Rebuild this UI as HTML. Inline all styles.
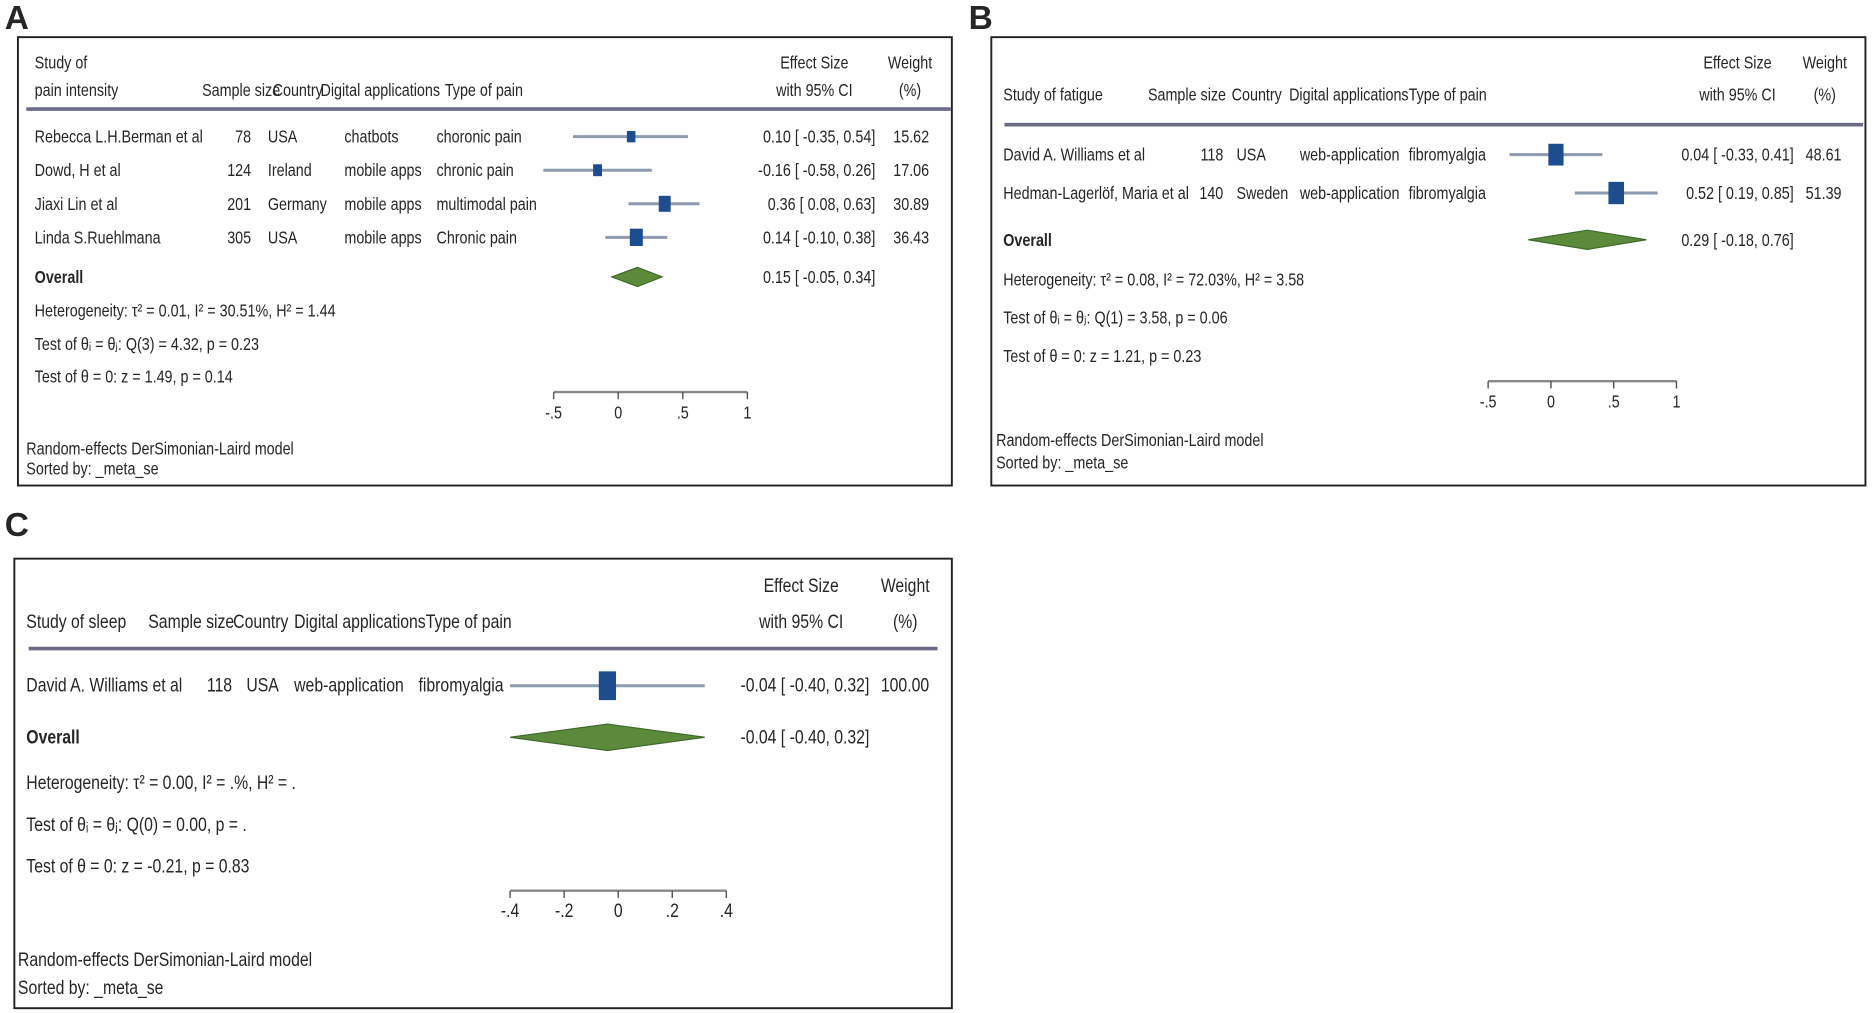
<!DOCTYPE html>
<html><head><meta charset="utf-8">
<style>
html,body{margin:0;padding:0;background:#fff;}
svg{display:block;}
text{font-family:"Liberation Sans",sans-serif;fill:#262626;}
</style></head>
<body>
<svg id="fig" width="1875" height="1013" viewBox="0 0 1568 845" preserveAspectRatio="none" xmlns="http://www.w3.org/2000/svg"></svg>
<script>
// ---------- Panel A data ----------
const aStudies = ["Rebecca L.H.Berman et al","Dowd, H et al","Jiaxi Lin et al","Linda S.Ruehlmana"];
const aSample = ["78","124","201","305"];
const aCountry = ["USA","Ireland","Germany","USA"];
const aApp = ["chatbots","mobile apps","mobile apps","mobile apps"];
const aPain = ["choronic pain","chronic pain","multimodal pain","Chronic pain"];
const aEst = [0.10,-0.16,0.36,0.14];
const aLo = [-0.35,-0.58,0.08,-0.10];
const aHi = [0.54,0.26,0.63,0.38];
const aWeight = [15.62,17.06,30.89,36.43];
const aOverall = [0.15,-0.05,0.34];
const aTicks = [-0.5,0,0.5,1];
const aTickLabels = ["-.5","0",".5","1"];
// ---------- Panel B data ----------
const bStudies = ["David A. Williams et al","Hedman-Lagerlöf, Maria et al"];
const bSample = ["118","140"];
const bCountry = ["USA","Sweden"];
const bApp = ["web-application","web-application"];
const bPain = ["fibromyalgia","fibromyalgia"];
const bEst = [0.04,0.52];
const bLo = [-0.33,0.19];
const bHi = [0.41,0.85];
const bWeight = [48.61,51.39];
const bOverall = [0.29,-0.18,0.76];
const bTicks = [-0.5,0,0.5,1];
const bTickLabels = ["-.5","0",".5","1"];
// ---------- Panel C data ----------
const cStudies = ["David A. Williams et al"];
const cSample = ["118"];
const cCountry = ["USA"];
const cApp = ["web-application"];
const cPain = ["fibromyalgia"];
const cEst = [-0.04];
const cLo = [-0.40];
const cHi = [0.32];
const cWeight = [100.00];
const cOverall = [-0.04,-0.40,0.32];
const cTicks = [-0.4,-0.2,0,0.2,0.4];
const cTickLabels = ["-.4","-.2","0",".2",".4"];

const NS="http://www.w3.org/2000/svg";
const svg=document.getElementById('fig');
const SX=0.8;
function el(tag,attrs,parent){const e=document.createElementNS(NS,tag);for(const k in attrs)e.setAttribute(k,attrs[k]);(parent||svg).appendChild(e);return e;}
function txt(parent,x,y,s,size,anchor,weight){
  const g=el('g',{transform:'translate('+x+','+y+') scale('+SX+',1)'},parent);
  const t=el('text',{x:0,y:0,'font-size':size||15,'text-anchor':anchor||'start','font-weight':weight||'normal'},g);
  t.textContent=s;return t;
}
function f2(v){return (v<0?'-':'')+Math.abs(v).toFixed(2);}
function ciText(e,l,h){return f2(e)+' [ '+f2(l)+', '+f2(h)+']';}

function panel(cfg){
  const fs=cfg.fs||15;
  const g=el('g',{});
  
  
  const lab=el('text',{x:cfg.labX,y:cfg.labY,'font-size':28,'font-weight':'bold',fill:'#000'},g);
  lab.textContent=cfg.label;
  
  
  const box=el('rect',{x:cfg.box[0],y:cfg.box[1],width:cfg.box[2]-cfg.box[0],height:cfg.box[3]-cfg.box[1],fill:'none',stroke:'#222','stroke-width':1.6},g);
  
  
  const hg=el('g',{},g);
  
  
  cfg.header.forEach(h=>txt(hg,h[0],h[1],h[2],fs,h[3]||'start'));
  const hl=el('line',{x1:cfg.hline[0],x2:cfg.hline[1],y1:cfg.hline[2],y2:cfg.hline[2],stroke:'#6c6c86','stroke-width':3},g);
  
  
  const xs=v=>cfg.x0+v*cfg.ppu;
  cfg.studies.forEach((s,i)=>{
    const y=cfg.rowY[i];
    const rg=el('g',{},g);
    
    
    txt(rg,cfg.cols[0],y+5,s,fs);
    txt(rg,cfg.cols[1],y+5,cfg.sample[i],fs,'end');
    txt(rg,cfg.cols[2],y+5,cfg.country[i],fs);
    txt(rg,cfg.cols[3],y+5,cfg.app[i],fs);
    txt(rg,cfg.cols[4],y+5,cfg.pain[i],fs);
    const ci=el('line',{x1:xs(cfg.lo[i]),x2:xs(cfg.hi[i]),y1:y,y2:y,stroke:'#8e9aae','stroke-width':2.5},rg);
    
    
    const hgt=cfg.k*Math.sqrt(cfg.weight[i]);
    const w=hgt*cfg.aspect;
    const sq=el('rect',{x:xs(cfg.est[i])-w/2,y:y-hgt/2,width:w,height:hgt,fill:'#1d4d8f'},rg);
    
    
    txt(rg,cfg.esX,y+5,ciText(cfg.est[i],cfg.lo[i],cfg.hi[i]),fs,'end');
    txt(rg,cfg.wX,y+5,cfg.weight[i].toFixed(2),fs,'end');
  });
  const oy=cfg.overallY;
  const og=el('g',{},g);
  
  
  txt(og,cfg.cols[0],oy+5,'Overall',fs,'start','bold');
  const o=cfg.overall;
  const dm=el('polygon',{points:[xs(o[1])+','+oy,xs(o[0])+','+(oy-cfg.dh),xs(o[2])+','+oy,xs(o[0])+','+(oy+cfg.dh)].join(' '),fill:'#5b8b3a',stroke:'#3f6a2a','stroke-width':1},og);
  
  
  txt(og,cfg.esX,oy+5,ciText(o[0],o[1],o[2]),fs,'end');
  cfg.stats.forEach((s,i)=>{
    const t=txt(g,cfg.cols[0],cfg.statY[i]+5,s,fs);
    
    
  });
  const ag=el('g',{},g);
  
  
  const tks=cfg.ticks;
  el('line',{x1:xs(tks[0]),x2:xs(tks[tks.length-1]),y1:cfg.axisY,y2:cfg.axisY,stroke:'#888','stroke-width':2},ag);
  tks.forEach((v,i)=>{
    const tk=el('line',{x1:xs(v),x2:xs(v),y1:cfg.axisY,y2:cfg.axisY+6,stroke:'#555','stroke-width':1.2},ag);
    
    
    const tl=txt(ag,xs(v),cfg.axisY+22,cfg.tickLabels[i],fs,'middle');
    
    
  });
  txt(g,cfg.footX,cfg.footY[0]+5,'Random-effects DerSimonian-Laird model',fs);
  txt(g,cfg.footX,cfg.footY[1]+5,'Sorted by: _meta_se',fs);
}

panel({name:'panel-a-pain-intensity',label:'A',labX:4,labY:24,box:[15,31,796,405],
  header:[[29,57,'Study of'],[29,80,'pain intensity'],[169,80,'Sample size'],[228,80,'Country'],[268,80,'Digital applications'],[372,80,'Type of pain'],
    [681,57,'Effect Size','middle'],[681,80,'with 95% CI','middle'],[761,57,'Weight','middle'],[761,80,'(%)','middle']],
  hline:[22,795,91],cols:[29,210,224,288,365],
  studies:aStudies,sample:aSample,country:aCountry,app:aApp,pain:aPain,est:aEst,lo:aLo,hi:aHi,weight:aWeight,overall:aOverall,
  rowY:[114,142,170,198],overallY:231,statY:[259,287,314],
  stats:['Heterogeneity: τ² = 0.01, I² = 30.51%, H² = 1.44','Test of θᵢ = θⱼ: Q(3) = 4.32, p = 0.23','Test of θ = 0: z = 1.49, p = 0.14'],
  x0:517,ppu:108,k:2.4,aspect:0.75,dh:8,esX:732,wX:777,axisY:327,ticks:aTicks,tickLabels:aTickLabels,footX:22,footY:[374,391]});

panel({name:'panel-b-fatigue',label:'B',labX:810,labY:24,box:[829,31,1560,405],
  header:[[839,84,'Study of fatigue'],[960,84,'Sample size'],[1030,84,'Country'],[1078,84,'Digital applications'],[1178,84,'Type of pain'],
    [1453,57,'Effect Size','middle'],[1453,84,'with 95% CI','middle'],[1526,57,'Weight','middle'],[1526,84,'(%)','middle']],
  hline:[840,1558,104],cols:[839,1023,1034,1087,1178],
  studies:bStudies,sample:bSample,country:bCountry,app:bApp,pain:bPain,est:bEst,lo:bLo,hi:bHi,weight:bWeight,overall:bOverall,
  rowY:[129,161],overallY:200,statY:[233,265,297],
  stats:['Heterogeneity: τ² = 0.08, I² = 72.03%, H² = 3.58','Test of θᵢ = θⱼ: Q(1) = 3.58, p = 0.06','Test of θ = 0: z = 1.21, p = 0.23'],
  x0:1297,ppu:105,k:2.6,aspect:0.7,dh:8,esX:1500,wX:1540,axisY:318,ticks:bTicks,tickLabels:bTickLabels,footX:833,footY:[367,386]});

panel({name:'panel-c-sleep',label:'C',labX:4,labY:447,box:[12,466,796,841],fs:16.5,
  header:[[22,524,'Study of sleep'],[124,524,'Sample size'],[195,524,'Country'],[246,524,'Digital applications'],[356,524,'Type of pain'],
    [670,494,'Effect Size','middle'],[670,524,'with 95% CI','middle'],[757,494,'Weight','middle'],[757,524,'(%)','middle']],
  hline:[24,784,541],cols:[22,194,206,246,350],
  studies:cStudies,sample:cSample,country:cCountry,app:cApp,pain:cPain,est:cEst,lo:cLo,hi:cHi,weight:cWeight,overall:cOverall,
  rowY:[572],overallY:615,statY:[653,688,723],
  stats:['Heterogeneity: τ² = 0.00, I² = .%, H² = .','Test of θᵢ = θⱼ: Q(0) = 0.00, p = .','Test of θ = 0: z = -0.21, p = 0.83'],
  x0:517,ppu:226,k:2.4,aspect:0.6,dh:11,esX:727,wX:777,axisY:743,ticks:cTicks,tickLabels:cTickLabels,footX:15,footY:[801,824]});
</script>
</body></html>
